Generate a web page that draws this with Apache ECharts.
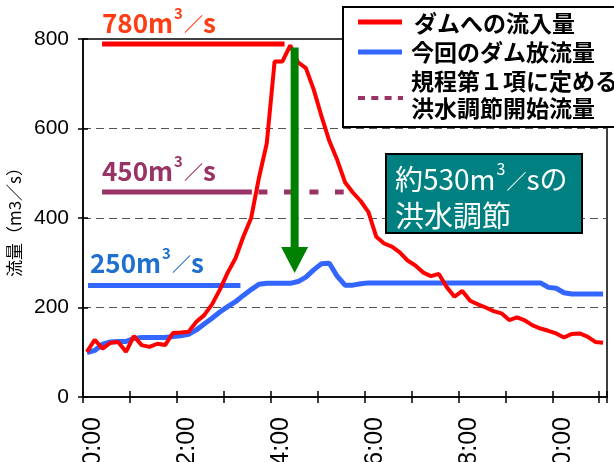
<!DOCTYPE html>
<html><head><meta charset="utf-8">
<script src="https://cdn.jsdelivr.net/npm/echarts@6/dist/echarts.min.js"></script>
<style>html,body{margin:0;padding:0;background:#fff}#c{width:614px;height:462px}</style>
</head><body><div id="c"></div>
<script>
// ---- data ----
const sampleCount = 67;              // 10-minute samples
const stepHours = 1 / 6;
const firstSampleHour = 1 / 12;
const inflow = [101,128,108,121,123,101,136,116,112,119,116,143,144,146,168,183,207,240,278,310,
  358,400,490,567,750,750,786,748,735,687,627,572,530,480,457,438,413,358,343,336,
  323,305,294,278,270,275,246,224,237,215,207,200,192,187,172,178,171,160,153,148,
  142,133,141,142,135,123,121];
const outflow = [99,104,118,123,124,124,131,133,133,133,133,135,137,140,150,163,176,190,202,213,
  227,240,252,254,254,254,254,258,268,284,298,299,270,250,250,253,255,255,255,255,
  255,255,255,255,255,255,255,255,255,255,255,255,255,255,255,255,255,255,255,245,
  243,233,230,230,230,230,230];
const xLabelHours = [0, 2, 4, 6, 8, 10];
const xLabels = ['0:00', '2:00', '4:00', '6:00', '8:00', '10:00'];
const peakRef = [[0.406, 789], [4.295, 789]];
const startRefSolid = [[0.406, 458], [3.60, 458]];
const startRefDotted = [[3.739, 458], [5.556, 458]];
const outRef = [[0.107, 249], [3.355, 249]];
const arrowFrom = [4.51, 781];
const arrowTo = [4.51, 277];
const seriesNames = ['ダムへの流入量', '今回のダム放流量'];
const legendLines = ['規程第１項に定める', '洪水調節開始流量'];
const noteValues = ['780', '450', '250'];
const boxLine1 = ['約530', 'の'];
const boxLine2 = '洪水調節';
const yAxisName = '流量（m3／s）';

// ---- chart ----
const chart = echarts.init(document.getElementById('c'), null, {renderer: 'canvas'});
const hours = inflow.map((_, i) => firstSampleHour + i * stepHours);
const xMax = sampleCount * stepHours;
const numFont = "'Liberation Sans Narrow','Arial Narrow','Liberation Sans',Arial,sans-serif";
const jpFont = "'Noto Sans CJK JP','Noto Sans CJK SC',sans-serif";
const RED = '#ff0000', BLUE = '#3366ff', PURPLE = '#993366';

function xLabel(v) {
  const k = xLabelHours.findIndex(h => Math.abs(h - v) < 1e-6);
  return k >= 0 ? xLabels[k] : '';
}
const tickStyle = {color: '#000', width: 1.5};

chart.setOption({
  animation: false,
  grid: {left: 83, right: 7, top: 39, bottom: 65, show: true, borderColor: '#000', borderWidth: 1.5,
         containLabel: false, outerBoundsMode: 'none'},
  xAxis: [
    {type: 'value', min: 0, max: xMax, interval: 1,
     axisLine: {show: true, lineStyle: tickStyle},
     axisTick: {show: true, length: 6, lineStyle: tickStyle},
     axisLabel: {rotate: 90, formatter: xLabel, fontFamily: numFont, fontSize: 25, color: '#000', margin: 20,
                 verticalAlign: 'top', lineHeight: 21},
     splitLine: {show: false}},
    {type: 'value', min: 0, max: xMax, interval: 1, position: 'bottom',
     axisLine: {show: false},
     axisTick: {show: true, inside: true, length: 6, lineStyle: tickStyle},
     axisLabel: {show: false}, splitLine: {show: false}}
  ],
  yAxis: [
    {type: 'value', min: 0, max: 800, interval: 200,
     name: yAxisName, nameLocation: 'middle', nameGap: 55, nameRotate: 90,
     nameTextStyle: {fontFamily: jpFont, fontSize: 17, color: '#000'},
     axisLine: {show: true, lineStyle: tickStyle},
     axisTick: {show: true, length: 5, lineStyle: tickStyle},
     axisLabel: {fontFamily: numFont, fontSize: 21, color: '#000', margin: 14},
     splitLine: {show: true, showMinLine: false, showMaxLine: false, lineStyle: {type: [8, 5], color: '#555', width: 1}}},
    {type: 'value', min: 0, max: 800, interval: 200, position: 'left',
     axisLine: {show: false},
     axisTick: {show: true, inside: true, length: 5, lineStyle: tickStyle},
     axisLabel: {show: false}, splitLine: {show: false}}
  ],
  series: [
    {type: 'line', data: peakRef, symbol: 'none', silent: true, z: 3,
     lineStyle: {color: RED, width: 5, cap: 'butt'}},
    {type: 'line', data: startRefSolid, symbol: 'none', silent: true, z: 3,
     lineStyle: {color: PURPLE, width: 5, cap: 'butt'}},
    {type: 'line', data: startRefDotted, symbol: 'none', silent: true, z: 3,
     lineStyle: {color: PURPLE, width: 5, cap: 'butt', type: [9, 16.5]}},
    {type: 'line', data: outRef, symbol: 'none', silent: true, z: 3,
     lineStyle: {color: BLUE, width: 5, cap: 'butt'}},
    {name: seriesNames[1], type: 'line', data: hours.map((h, i) => [h, outflow[i]]), symbol: 'none', z: 4,
     lineStyle: {color: BLUE, width: 5}},
    {name: seriesNames[0], type: 'line', data: hours.map((h, i) => [h, inflow[i]]), symbol: 'none', z: 5,
     lineStyle: {color: RED, width: 4}}
  ]
});

// arrow positioned in data coordinates
const a0 = chart.convertToPixel({seriesIndex: 5}, arrowFrom);
const a1 = chart.convertToPixel({seriesIndex: 5}, arrowTo);
const ax = a0[0], headLen = 26, headHalf = 13.5, shaftHalf = 4;
const yb = a1[1] - headLen;

const txt = (x, y, text, font, color) => ({
  type: 'text', x: x, y: y, z: 100,
  style: {text: text, font: font, fill: color, textVerticalAlign: 'middle', textAlign: 'left'}
});
// "NNNm³／s" as rich text with a raised small 3
function unitText(x, y, num, color, size, weight, tail) {
  return {
    type: 'text', x: x, y: y, z: 100,
    style: {
      text: '{n|' + num + 'm}{s|3}{sl|／}{n|s' + (tail || '') + '}',
      textVerticalAlign: 'middle', textAlign: 'left',
      rich: {
        n: {fontFamily: jpFont, fontSize: size, fontWeight: weight, fill: color, color: color, lineHeight: size + 4, verticalAlign: 'bottom'},
        s: {fontFamily: jpFont, fontSize: Math.round(size * 0.58), fontWeight: weight, fill: color, color: color, lineHeight: size + 4, verticalAlign: 'top', padding: [0, 1, 0, 1]},
        sl: {fontFamily: jpFont, fontSize: Math.round(size * 0.72), fontWeight: weight, fill: color, color: color, lineHeight: size + 4, verticalAlign: 'bottom', padding: [0, 0, 2, 0]}
      }
    }
  };
}

chart.setOption({
  graphic: [
    {type: 'polygon', z: 90, shape: {points: [[ax - shaftHalf, a0[1]], [ax + shaftHalf, a0[1]], [ax + shaftHalf, yb], [ax + headHalf, yb], [ax, a1[1]], [ax - headHalf, yb], [ax - shaftHalf, yb]]},
     style: {fill: '#008000'}},
    // notes
    unitText(102, 21, noteValues[0], '#ff3c14', 26, 'bold'),
    unitText(102, 169, noteValues[1], PURPLE, 26, 'bold'),
    unitText(90, 261, noteValues[2], '#1f6fd0', 26, 'bold'),
    // legend box
    {type: 'rect', z: 95, shape: {x: 343, y: 7, width: 290, height: 120}, style: {fill: '#fff', stroke: '#000', lineWidth: 2}},
    {type: 'line', z: 100, shape: {x1: 358, y1: 22, x2: 402, y2: 22}, style: {stroke: RED, lineWidth: 5}},
    {type: 'line', z: 100, shape: {x1: 358, y1: 52, x2: 402, y2: 52}, style: {stroke: BLUE, lineWidth: 5}},
    {type: 'line', z: 100, shape: {x1: 358, y1: 98, x2: 403, y2: 98}, style: {stroke: PURPLE, lineWidth: 4, lineDash: [7, 6.3]}},
    txt(414, 23, seriesNames[0], "bold 23px " + jpFont, '#000'),
    txt(411, 52, seriesNames[1], "bold 23px " + jpFont, '#000'),
    txt(411, 81, legendLines[0], "bold 23px " + jpFont, '#000'),
    txt(411, 108, legendLines[1], "bold 23px " + jpFont, '#000'),
    // teal box
    {type: 'rect', z: 95, shape: {x: 386, y: 154, width: 196, height: 79}, style: {fill: '#008080', stroke: '#000', lineWidth: 2}},
    unitText(395, 177, boxLine1[0], '#fff', 28, 'normal', boxLine1[1]),
    txt(395, 216, boxLine2, "29px " + jpFont, '#fff')
  ]
});
</script></body></html>
